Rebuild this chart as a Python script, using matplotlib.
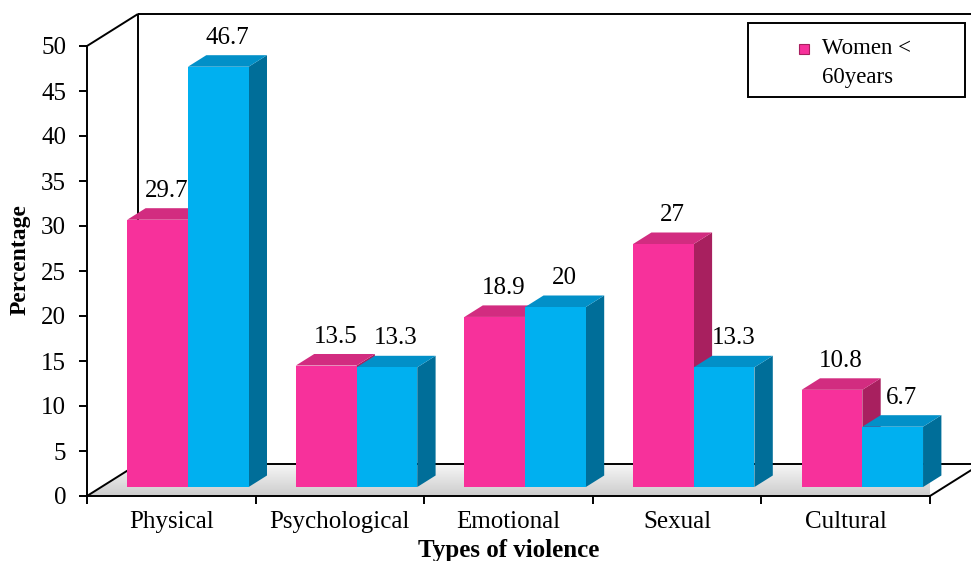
#!/usr/bin/env python3
"""Pseudo-3D clustered bars: types of violence by age group."""

import matplotlib.pyplot as plt
import numpy as np
from matplotlib.patches import Polygon, Rectangle

CATEGORIES = ["Physical", "Psychological", "Emotional", "Sexual", "Cultural"]
WOMEN_UNDER_60 = [29.7, 13.5, 18.9, 27, 10.8]
WOMEN_OVER_60 = [46.7, 13.3, 20, 13.3, 6.7]
VALUE_LABELS_UNDER = ["29.7", "13.5", "18.9", "27", "10.8"]
VALUE_LABELS_OVER = ["46.7", "13.3", "20", "13.3", "6.7"]
Y_TICKS = [0, 5, 10, 15, 20, 25, 30, 35, 40, 45, 50]

# face colours: front, side, top
PINK = ("#f7319b", "#a8205f", "#d22c80")
BLUE = ("#00b0f0", "#006e99", "#0290c8")

FONT = "Liberation Serif"

# depth vector of the floor, in data units (x: categories, y: percent)
DEPTH = np.array([0.3025, 3.56])
F_FRONT, F_BACK = 0.28, 0.64
BAR_W = 0.36
GROUP_C = 0.514


def _draw_bar(ax, x_left, value, colors, z):
    front, side, top = colors
    off = F_FRONT * DEPTH
    d = (F_BACK - F_FRONT) * DEPTH
    xl = x_left + off[0]
    xr = xl + BAR_W
    y0 = off[1]
    y1 = value + off[1]
    ax.bar(xl, value, width=BAR_W, bottom=y0, align="edge", color=front,
           edgecolor="none", zorder=z + 0.2, clip_on=False)
    ax.add_patch(Polygon([(xr, y0), (xr, y1), (xr + d[0], y1 + d[1]),
                          (xr + d[0], y0 + d[1])], closed=True,
                         facecolor=side, edgecolor="none", zorder=z, clip_on=False))
    ax.add_patch(Polygon([(xl, y1), (xr, y1), (xr + d[0], y1 + d[1]),
                          (xl + d[0], y1 + d[1])], closed=True,
                         facecolor=top, edgecolor="none", zorder=z + 0.1, clip_on=False))
    return xl + BAR_W / 2 + d[0] / 2, y1 + d[1]


def main() -> None:
    plt.rcParams["font.family"] = [FONT, "DejaVu Serif"]
    W, H = 971, 561
    fig = plt.figure(figsize=(W / 100, H / 100), dpi=100)
    left, right, top_px, bottom_px = 87, 930, 46, 496
    ax = fig.add_axes([left / W, 1 - bottom_px / H,
                       (right - left) / W, (bottom_px - top_px) / H])
    ax.patch.set_alpha(0)

    n = len(CATEGORIES)
    lw = 1.4

    # floor with soft shading
    floor = Polygon([(0, 0), (n, 0), (n + DEPTH[0], DEPTH[1]), (DEPTH[0], DEPTH[1])],
                    closed=True, facecolor="none", edgecolor="none", clip_on=False)
    ax.add_patch(floor)
    grad = np.linspace(0.80, 0.97, 64).reshape(-1, 1)
    img = ax.imshow(np.repeat(grad, 2, axis=1), cmap="gray", vmin=0, vmax=1,
                    extent=(0, n + DEPTH[0], DEPTH[1], 0), aspect="auto",
                    zorder=0.5, interpolation="bicubic")
    img.set_clip_path(floor)
    ax.set_xlim(0, 5)
    ax.set_ylim(0, 50)

    # back wall and floor edges
    kw = dict(color="black", lw=lw, clip_on=False, zorder=1, solid_capstyle="butt")
    ax.plot([0, DEPTH[0]], [50, 50 + DEPTH[1]], **kw)
    ax.plot([DEPTH[0], DEPTH[0]], [DEPTH[1], 50 + DEPTH[1]], **kw)
    ax.plot([DEPTH[0], n + DEPTH[0] + 0.5], [50 + DEPTH[1]] * 2, **kw)
    ax.plot([0, DEPTH[0]], [0, DEPTH[1]], **kw)
    ax.plot([DEPTH[0], n + DEPTH[0]], [DEPTH[1]] * 2, **kw)
    ax.plot([n, n + DEPTH[0]], [0, DEPTH[1]], **kw)

    z = 2
    for i in range(n):
        c = i + GROUP_C
        lx, ly = _draw_bar(ax, c - BAR_W, WOMEN_UNDER_60[i], PINK, z)
        ax.text(lx, ly + 0.7, VALUE_LABELS_UNDER[i], ha="center", va="bottom",
                fontsize=18, zorder=10)
        z += 1
        lx, ly = _draw_bar(ax, c, WOMEN_OVER_60[i], BLUE, z)
        ax.text(lx, ly + 0.7, VALUE_LABELS_OVER[i], ha="center", va="bottom",
                fontsize=18, zorder=10)
        z += 1

    # front axes
    for s in ("top", "right"):
        ax.spines[s].set_visible(False)
    for s in ("left", "bottom"):
        ax.spines[s].set_linewidth(lw)
        ax.spines[s].set_zorder(20)
    ax.set_yticks(Y_TICKS)
    ax.tick_params(axis="y", direction="out", length=6, width=lw, labelsize=18, pad=9)
    ax.set_xticks(range(n + 1))
    ax.set_xticklabels([])
    ax.set_xticks([i + 0.5 for i in range(n)], minor=True)
    ax.set_xticklabels(CATEGORIES, minor=True)
    ax.tick_params(axis="x", which="major", direction="out", length=6, width=lw)
    ax.tick_params(axis="x", which="minor", length=0, labelsize=18, pad=11)

    ax.set_xlabel("Types of violence", fontsize=18, fontweight="bold")
    ax.xaxis.set_label_coords(0.5, (496 - 550) / 450, transform=ax.transAxes)
    ax.xaxis.label.set_va("center")
    ax.set_ylabel("Percentage", fontsize=17, fontweight="bold")
    ax.yaxis.set_label_coords((20 - 87) / 843, (496 - 260) / 450, transform=ax.transAxes)
    ax.yaxis.label.set_va("center")

    # legend box (only the first series is listed)
    fig.patches.append(Rectangle((748 / W, 1 - 97 / H), 217 / W, 74 / H,
                                 transform=fig.transFigure, facecolor="white",
                                 edgecolor="black", lw=1.4))
    fig.text(858 / W, 1 - 63 / H, "   Women <\n60years", ha="center", va="center",
             fontsize=16.5, multialignment="center", linespacing=1.5)
    fig.patches.append(Rectangle((799 / W, 1 - 54 / H), 10 / W, 10 / H,
                                 transform=fig.transFigure, facecolor=PINK[0],
                                 edgecolor=PINK[1], lw=0.8))

    fig.savefig("out.png", dpi=100)
    plt.close(fig)


if __name__ == "__main__":
    main()
